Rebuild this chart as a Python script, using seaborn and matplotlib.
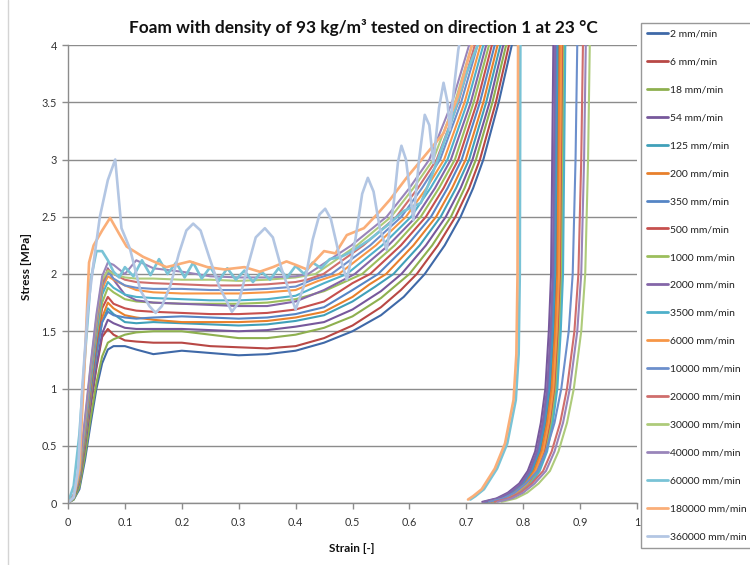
import matplotlib
matplotlib.use("Agg")
import matplotlib.pyplot as plt
from matplotlib.lines import Line2D
import seaborn as sns
import pandas as pd

# ---------------- data ----------------
LABELS = ["2 mm/min", "6 mm/min", "18 mm/min", "54 mm/min", "125 mm/min", "200 mm/min",
          "350 mm/min", "500 mm/min", "1000 mm/min", "2000 mm/min", "3500 mm/min",
          "6000 mm/min", "10000 mm/min", "20000 mm/min", "30000 mm/min", "40000 mm/min",
          "60000 mm/min", "180000 mm/min", "360000 mm/min"]
COLORS = ["#3F69A8", "#B84845", "#8EB04F", "#77589C", "#40A0B9", "#E8802C",
          "#5585C5", "#C6504E", "#9CBE5C", "#8466A8", "#4EB0CA", "#F79646",
          "#6C8FCC", "#CF6E6C", "#AECB7A", "#9985BA", "#79C3D6", "#FAAE78", "#B3C6E3"]

XTICK_LABELS = ["0", "0.1", "0.2", "0.3", "0.4", "0.5", "0.6", "0.7", "0.8", "0.9", "1"]
YTICK_LABELS = ["0", "0.5", "1", "1.5", "2", "2.5", "3", "3.5", "4"]

# strain points of the initial rise and plateau
STRAIN_BASE = [0, .01, .02, .03, .04, .05, .06, .07, .08, .10, .12, .15, .20, .25, .30, .35, .40]
# stress levels through densification (strains listed per series)
DENS_LEVELS = [2.0, 2.25, 2.5, 2.75, 3.0, 3.5, 4.0, 4.6]
# stress levels during unloading (strains listed per series)
UNLOAD_STRESS = [4.0, 3.0, 2.0, 1.5, 1.0, 0.7, 0.45, 0.28, 0.17, 0.09, 0.04, 0.01]

x_2 = STRAIN_BASE + [.45, .50, .55, .59] + [.627, .662, .690, .712, .730, .757, .780, .800] + \
      [.862, .860, .858, .854, .848, .840, .830, .817, .802, .782, .762, .737]
y_2 = [0, .03, .12, .38, .70, 1.00, 1.22, 1.34, 1.37, 1.37, 1.34, 1.30, 1.33, 1.31, 1.29, 1.30, 1.33] + \
      [1.40, 1.50, 1.64, 1.80] + DENS_LEVELS + UNLOAD_STRESS

x_6 = STRAIN_BASE + [.45, .50, .55, .585] + [.613, .650, .681, .705, .724, .752, .775, .795] + \
      [.866, .864, .862, .858, .852, .844, .834, .821, .806, .786, .766, .741]
y_6 = [0, .04, .18, .50, .85, 1.18, 1.45, 1.52, 1.47, 1.42, 1.41, 1.40, 1.40, 1.37, 1.36, 1.35, 1.37] + \
      [1.44, 1.55, 1.71, 1.86] + DENS_LEVELS + UNLOAD_STRESS

x_18 = STRAIN_BASE + [.45, .50, .55] + [.600, .640, .673, .697, .717, .746, .770, .790] + \
       [.868, .866, .864, .860, .854, .846, .836, .823, .808, .788, .768, .743]
y_18 = [0, .03, .14, .42, .75, 1.05, 1.28, 1.40, 1.43, 1.47, 1.49, 1.50, 1.50, 1.47, 1.44, 1.44, 1.47] + \
       [1.53, 1.63, 1.79] + DENS_LEVELS + UNLOAD_STRESS

x_54 = STRAIN_BASE + [.45, .50, .55] + [.586, .629, .664, .690, .711, .741, .765, .785] + \
       [.853, .851, .849, .845, .839, .831, .821, .808, .793, .773, .753, .728]
y_54 = [0, .04, .18, .50, .88, 1.20, 1.48, 1.60, 1.57, 1.53, 1.52, 1.52, 1.52, 1.51, 1.50, 1.51, 1.54] + \
       [1.58, 1.69, 1.85] + DENS_LEVELS + UNLOAD_STRESS

x_125 = STRAIN_BASE + [.45, .50, .54] + [.572, .618, .655, .682, .705, .735, .760, .780] + \
        [.860, .858, .856, .852, .846, .838, .828, .815, .800, .780, .760, .735]
y_125 = [0, .04, .20, .55, .95, 1.30, 1.58, 1.70, 1.65, 1.58, 1.57, 1.58, 1.57, 1.56, 1.55, 1.56, 1.59] + \
        [1.64, 1.76, 1.89] + DENS_LEVELS + UNLOAD_STRESS

x_200 = STRAIN_BASE + [.45, .50, .53] + [.559, .607, .647, .675, .699, .730, .755, .775] + \
        [.864, .862, .860, .856, .850, .842, .832, .819, .804, .784, .764, .739]
y_200 = [0, .05, .20, .55, .95, 1.32, 1.62, 1.75, 1.70, 1.64, 1.62, 1.60, 1.58, 1.58, 1.58, 1.59, 1.62] + \
        [1.67, 1.80, 1.91] + DENS_LEVELS + UNLOAD_STRESS

x_350 = STRAIN_BASE + [.45, .50] + [.545, .596, .638, .667, .692, .724, .750, .770] + \
        [.858, .856, .854, .850, .844, .836, .826, .813, .798, .778, .758, .733]
y_350 = [0, .05, .22, .58, .98, 1.32, 1.58, 1.67, 1.64, 1.62, 1.61, 1.62, 1.63, 1.62, 1.61, 1.62, 1.65] + \
        [1.71, 1.86] + DENS_LEVELS + UNLOAD_STRESS

x_500 = STRAIN_BASE + [.45, .50] + [.531, .585, .629, .660, .686, .719, .745, .765] + \
        [.870, .868, .866, .862, .856, .848, .838, .825, .810, .790, .770, .745]
y_500 = [0, .05, .22, .60, 1.02, 1.40, 1.70, 1.80, 1.74, 1.70, 1.68, 1.67, 1.66, 1.65, 1.65, 1.66, 1.69] + \
        [1.76, 1.92] + DENS_LEVELS + UNLOAD_STRESS

x_1000 = STRAIN_BASE + [.45] + [.517, .574, .620, .652, .680, .713, .740, .760] + \
         [.872, .870, .868, .864, .858, .850, .840, .827, .812, .792, .772, .747]
y_1000 = [0, .05, .23, .62, 1.05, 1.45, 1.75, 1.88, 1.84, 1.78, 1.76, 1.75, 1.74, 1.74, 1.74, 1.75, 1.78] + \
         [1.85] + DENS_LEVELS + UNLOAD_STRESS

x_2000 = STRAIN_BASE + [.45] + [.504, .563, .612, .645, .673, .708, .735, .755] + \
         [.856, .854, .852, .848, .842, .834, .824, .811, .796, .776, .756, .731]
y_2000 = [0, .06, .25, .65, 1.10, 1.50, 1.85, 2.05, 1.95, 1.82, 1.77, 1.75, 1.74, 1.73, 1.72, 1.72, 1.76] + \
         [1.86] + DENS_LEVELS + UNLOAD_STRESS

x_3500 = STRAIN_BASE + [.45] + [.490, .552, .603, .637, .667, .702, .730, .750] + \
         [.874, .872, .870, .866, .860, .852, .842, .829, .814, .794, .774, .749]
y_3500 = [0, .06, .25, .65, 1.10, 1.50, 1.82, 1.93, 1.88, 1.82, 1.80, 1.79, 1.78, 1.77, 1.77, 1.78, 1.81] + \
         [1.92] + DENS_LEVELS + UNLOAD_STRESS

x_6000 = STRAIN_BASE + [.44] + [.476, .541, .594, .630, .661, .697, .725, .745] + \
         [.867, .865, .863, .859, .853, .845, .835, .822, .807, .787, .767, .742]
y_6000 = [0, .06, .26, .68, 1.15, 1.55, 1.87, 1.98, 1.95, 1.90, 1.86, 1.84, 1.83, 1.83, 1.83, 1.84, 1.86] + \
         [1.94] + DENS_LEVELS + UNLOAD_STRESS

x_10000 = STRAIN_BASE + [.43] + [.463, .531, .586, .622, .654, .691, .720, .740] + \
          [.895, .892, .887, .880, .867, .855, .840, .825, .805, .785, .765, .740]
y_10000 = [0, .06, .26, .68, 1.15, 1.58, 1.90, 2.02, 1.96, 1.90, 1.88, 1.87, 1.87, 1.86, 1.86, 1.87, 1.89] + \
          [1.95] + DENS_LEVELS + UNLOAD_STRESS

x_20000 = STRAIN_BASE + [.42] + [.449, .519, .577, .615, .648, .686, .715, .735] + \
          [.905, .902, .897, .890, .877, .865, .850, .835, .815, .795, .775, .750]
y_20000 = [0, .07, .28, .70, 1.18, 1.60, 1.92, 2.04, 2.00, 1.95, 1.93, 1.92, 1.91, 1.90, 1.90, 1.91, 1.93] + \
          [1.95] + DENS_LEVELS + UNLOAD_STRESS

x_30000 = STRAIN_BASE + [.435, .508, .568, .607, .642, .680, .710, .730] + \
          [.917, .914, .909, .902, .889, .877, .862, .847, .827, .807, .787, .762]
y_30000 = [0, .07, .28, .72, 1.20, 1.62, 1.95, 2.03, 2.00, 1.97, 1.96, 1.96, 1.95, 1.95, 1.94, 1.95, 1.97] + \
          DENS_LEVELS + UNLOAD_STRESS

x_40000 = STRAIN_BASE + [.422, .498, .560, .600, .635, .675, .705, .725] + \
          [.910, .907, .902, .895, .882, .870, .855, .840, .820, .800, .780, .755]
y_40000 = [0, .07, .30, .75, 1.22, 1.65, 1.98, 2.10, 2.08, 2.00, 2.12, 2.05, 2.02, 1.98, 1.97, 1.97, 1.98] + \
          DENS_LEVELS + UNLOAD_STRESS

x_60000 = [0, .01, .02, .03, .04, .05, .06, .07, .08, .09,
           .10, .115, .13, .145, .16, .175, .19, .205, .22, .235,
           .25, .265, .28, .295, .31, .325, .34, .355, .37, .385,
           .40, .415, .43, .445, .46, .48, .50, .53, .56, .59,
           .62, .635, .65, .675, .70, .72, .745, .785,
           .795, .794, .792, .787, .772, .754, .731, .716, .707]
y_60000 = [0, .15, .6, 1.3, 1.95, 2.2, 2.2, 2.12, 2.02, 1.97,
           2.06, 1.98, 2.12, 1.99, 2.13, 2.0, 2.1, 1.97, 2.1, 1.96,
           2.06, 1.94, 2.05, 1.95, 2.03, 1.93, 2.02, 1.95, 2.05, 1.97,
           2.07, 2.0, 2.1, 2.05, 2.13, 2.15, 2.2, 2.3, 2.42, 2.55,
           2.62, 2.8, 3.0, 3.35, 3.75, 4.0, 4.6, 6.0,
           4.0, 2.0, 1.3, 0.9, 0.52, 0.3, 0.12, 0.06, 0.03]

x_180000 = [0, .01, .02, .03, .037, .045, .06, .074, .09, .103,
            .132, .173, .214, .245, .275, .31, .337, .36, .384, .40,
            .42, .45, .47, .49, .52, .543, .566, .595, .63, .66,
            .685, .71, .75, .785, .791, .790, .788, .783, .768, .750,
            .727, .712, .703]
y_180000 = [0, .05, .3, 1.3, 2.1, 2.25, 2.38, 2.49, 2.35, 2.24,
            2.15, 2.06, 2.11, 2.06, 2.04, 2.06, 2.02, 2.06, 2.11, 2.08,
            2.04, 2.2, 2.18, 2.34, 2.40, 2.52, 2.65, 2.84, 3.05, 3.23,
            3.55, 4.0, 5.0, 6.0, 4.0, 2.0, 1.3, 0.9, 0.52, 0.3,
            .12, .06, .03]

x_360000 = [0, .01, .018, .025, .035, .045, .056, .07, .083, .094,
            .109, .127, .143, .154, .165, .18, .195, .208, .22, .233,
            .248, .265, .288, .30, .315, .33, .346, .36, .375, .40,
            .415, .43, .442, .452, .462, .475, .49, .505, .517, .527,
            .537, .548, .56, .572, .58, .586, .594, .607, .617, .627,
            .635, .642, .652, .66, .667, .671, .68, .686, .695, .70,
            .72]
y_360000 = [0, .05, .3, 1.0, 1.7, 2.1, 2.5, 2.82, 3.0, 2.4,
            2.22, 1.86, 1.72, 1.66, 1.72, 1.9, 2.18, 2.38, 2.44, 2.38,
            2.15, 1.9, 1.67, 1.75, 2.05, 2.32, 2.40, 2.32, 2.05, 1.69,
            1.9, 2.3, 2.52, 2.57, 2.48, 2.2, 1.95, 2.3, 2.7, 2.84,
            2.72, 2.4, 2.21, 2.6, 2.98, 3.12, 3.0, 2.47, 3.0, 3.39,
            3.3, 2.97, 3.45, 3.67, 3.5, 3.26, 3.7, 3.96, 4.2, 4.5,
            5.0]

SERIES_X = [x_2, x_6, x_18, x_54, x_125, x_200, x_350, x_500, x_1000, x_2000, x_3500,
            x_6000, x_10000, x_20000, x_30000, x_40000, x_60000, x_180000, x_360000]
SERIES_Y = [y_2, y_6, y_18, y_54, y_125, y_200, y_350, y_500, y_1000, y_2000, y_3500,
            y_6000, y_10000, y_20000, y_30000, y_40000, y_60000, y_180000, y_360000]

# ---------------- build long table ----------------
rows = []
for lab, xs, ys in zip(LABELS, SERIES_X, SERIES_Y):
    n = min(len(xs), len(ys))
    for j in range(n):
        rows.append((lab, xs[j], ys[j], j))
df = pd.DataFrame(rows, columns=["series", "strain", "stress", "order"])

# ---------------- plotting ----------------
sns.set_style("white")
plt.rcParams["font.family"] = ["Lato", "DejaVu Sans"]

fig = plt.figure(figsize=(7.5, 5.65), dpi=100)
ax = fig.add_axes([68 / 750, 1 - 503 / 565, (637 - 68) / 750, (503 - 45) / 565])

sns.lineplot(data=df, x="strain", y="stress", hue="series", hue_order=LABELS,
             palette=COLORS, sort=False, estimator=None, legend=False,
             linewidth=1.5, ax=ax)
for ln in ax.lines[-3:]:
    ln.set_linewidth(1.9)

ax.set_xlim(0, 1)
ax.set_ylim(0, 4)
ax.set_xticks([i / 10 for i in range(11)])
ax.set_xticklabels(XTICK_LABELS)
ax.set_yticks([i / 2 for i in range(9)])
ax.set_yticklabels(YTICK_LABELS)
ax.set_xlabel("")
ax.set_ylabel("")
ax.set_axisbelow(True)
ax.yaxis.grid(True, color="#8c8c8c", linewidth=1.0)
ax.xaxis.grid(False)
for s in ["top", "right"]:
    ax.spines[s].set_visible(False)
for s in ["left", "bottom"]:
    ax.spines[s].set_color("#8c8c8c")
    ax.spines[s].set_linewidth(1.0)
ax.tick_params(axis="both", which="both", direction="out", length=4, width=1,
               color="#8c8c8c", labelsize=7.8, labelcolor="#333333")
ax.tick_params(axis="x", pad=6)
ax.tick_params(axis="y", pad=4, left=True)
ax.tick_params(axis="x", bottom=True)

fig.text(363 / 750, 1 - 28 / 565, "Foam with density of 93 kg/m³ tested on direction 1 at 23 °C",
         ha="center", va="center", fontsize=12.4, fontweight="bold", color="#111111")
fig.text(27 / 750, 1 - 266 / 565, "Stress [MPa]", rotation=90, ha="center", va="center",
         fontsize=8.5, fontweight="bold", color="#111111")
fig.text(352 / 750, 1 - 548 / 565, "Strain [-]", ha="center", va="center",
         fontsize=8.5, fontweight="bold", color="#111111")

fig.add_artist(Line2D([8 / 750, 8 / 750], [0, 1], color="#d4d4d4", linewidth=1.0))

handles = [Line2D([], [], color=c, linewidth=2.0) for c in COLORS]
leg = fig.legend(handles, LABELS, loc="upper left", bbox_to_anchor=(641 / 750, 1 - 23 / 565),
                 frameon=True, fancybox=False, edgecolor="#7f7f7f", fontsize=7.5,
                 handlelength=2.0, handletextpad=0.15, labelspacing=1.79,
                 borderpad=0.6, borderaxespad=0)
leg.get_frame().set_linewidth(1.0)
for t in leg.get_texts():
    t.set_color("#222222")

fig.savefig("out.png", dpi=100)
